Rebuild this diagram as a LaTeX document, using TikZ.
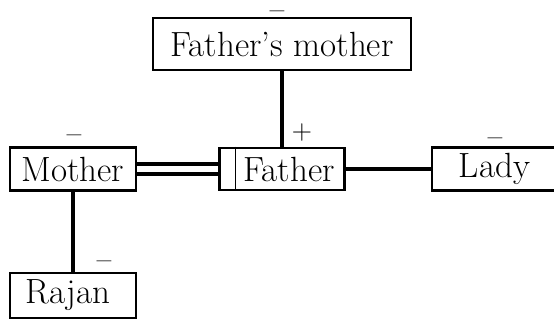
\documentclass[tikz,border=0pt]{standalone}
\usepackage{fontspec}
\newcommand{\negsign}{\scalebox{1.65}[1.4]{–}}
\begin{document}
\begin{tikzpicture}[x=1pt,y=-1pt,
  box/.style={draw, line width=2.6pt, inner sep=0pt, font=\fontsize{35}{40}\selectfont},
  link/.style={line width=3.6pt},
  sign/.style={inner sep=0pt, font=\fontsize{16}{18}\selectfont\bfseries},
  plussign/.style={inner sep=0pt, font=\fontsize{28}{32}\selectfont}]
\useasboundingbox (0,0) rectangle (554,320);
\node[box, minimum width=258pt, minimum height=52pt] (fm) at (282,44) {Father's mother};
\node[box, minimum width=125pt, minimum height=42pt] (father) at (282,169) {\hspace*{14pt}Father};
\node[box, minimum width=126pt, minimum height=43pt] (mother) at (73,169) {Mother};
\node[box, minimum width=128pt, minimum height=43pt] (lady) at (496,169) {\raisebox{1.5pt}{Lady}\hspace*{3pt}};
\node[box, minimum width=126pt, minimum height=45pt] (rajan) at (73,295.5) {Rajan\hspace*{10pt}};
\draw[line width=1.2pt] ([xshift=17pt]father.north west) -- ([xshift=17pt]father.south west);
\draw[link] (fm) -- (father);
\draw[line width=3.5pt, double, double distance=6.5pt] (mother) -- (father);
\draw[link] (father) -- (lady);
\draw[link] (mother) -- (rajan);
\node[sign] (s1) at (277,14.5) {\negsign};
\node[sign] (s2) at (74,138) {\negsign};
\node[sign] (s3) at (495,141) {\negsign};
\node[sign] (s4) at (104,264) {\negsign};
\node[plussign] (s5) at (302,133) {+};
\end{tikzpicture}
\end{document}
